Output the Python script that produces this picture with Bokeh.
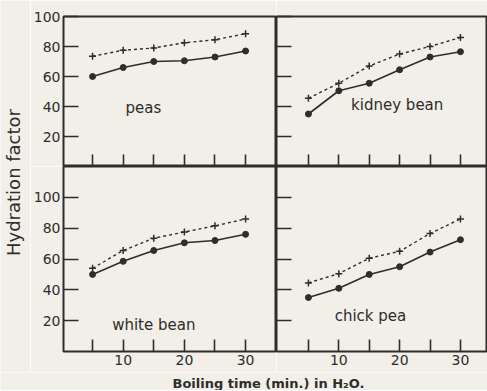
from math import pi
from bokeh.plotting import figure
from bokeh.models import Range1d, FixedTicker, Label
from bokeh.layouts import row, column
from bokeh.embed import file_html
from bokeh.resources import INLINE

# ---- data ----
boil_time = [5, 10, 15, 20, 25, 30]
peas_solid = [60, 66, 70, 70.5, 73, 77]
peas_dotted = [73.5, 77.5, 79, 82.5, 84.5, 88.5]
kidney_solid = [35, 50.5, 55.5, 64.5, 73, 76.5]
kidney_dotted = [45.5, 55.5, 67, 75, 80, 86]
white_solid = [50, 58.5, 65.5, 70.5, 72, 76]
white_dotted = [54, 65.5, 73.5, 77.5, 81.5, 86]
chick_solid = [35, 41, 50, 55, 64.5, 72.5]
chick_dotted = [44.5, 50.5, 60.5, 65, 76.5, 86]
panel_names = ["peas", "kidney bean", "white bean", "chick pea"]
y_ticks = [20, 40, 60, 80, 100]
x_ticks = [5, 10, 15, 20, 25, 30]
x_labelled_ticks = [10, 20, 30]
x_unlabelled_ticks = [5, 15, 25]
y_label = "Hydration factor"
x_label = "Boiling time (min.) in H\u2082O."

INK = "#2e2d2b"
PAPER = "#f1efe8"
FONT = "DejaVu Sans"


def style_axis(ax, major, minor, tick_len, labels):
    ax.ticker = FixedTicker(ticks=major, minor_ticks=minor)
    ax.axis_line_color = None
    ax.major_tick_in = tick_len
    ax.major_tick_out = 0
    ax.minor_tick_in = tick_len
    ax.minor_tick_out = 0
    ax.major_tick_line_color = INK
    ax.minor_tick_line_color = INK
    ax.major_tick_line_width = 1.6
    ax.minor_tick_line_width = 1.6
    ax.major_label_text_font = FONT
    ax.major_label_text_color = INK
    ax.major_label_text_font_size = "14px"
    ax.major_label_standoff = 3 if labels else 0


def panel(xr, yr, fw, fh, left, top, bottom, show_x, show_y):
    p = figure(frame_width=fw, frame_height=fh,
               x_range=Range1d(*xr), y_range=Range1d(*yr),
               output_backend="svg", toolbar_location=None,
               min_border_left=left, min_border_right=0,
               min_border_top=top, min_border_bottom=bottom)
    p.background_fill_color = PAPER
    p.border_fill_color = PAPER
    p.outline_line_color = INK
    p.outline_line_width = 2
    p.grid.visible = False
    if show_x:
        style_axis(p.xaxis[0], x_labelled_ticks, x_unlabelled_ticks, 12, True)
    else:
        style_axis(p.xaxis[0], [], x_ticks, 12, False)
    if show_y:
        style_axis(p.yaxis[0], y_ticks, [], 15, True)
    else:
        style_axis(p.yaxis[0], [], y_ticks, 15, False)
    return p


def draw(p, solid, dotted, name, lx, ly):
    p.line(boil_time, dotted, line_color=INK, line_width=1.4, line_dash="3 3")
    p.scatter(boil_time, dotted, marker="cross", size=7, line_color=INK, line_width=1.5)
    p.line(boil_time, solid, line_color=INK, line_width=1.6)
    p.scatter(boil_time, solid, marker="circle", size=6, fill_color=INK, line_color=INK)
    p.add_layout(Label(x=lx, y=ly, text=name, text_align="center", text_baseline="middle",
                       text_font=FONT, text_font_size="15px", text_color=INK))


LX = (0.25, 35.05)
RX = (-0.25, 34.45)
TY = (0, 100)
BY = (0, 120)

tl = panel(LX, TY, 213, 150, 33, 16, 0, False, True)
tr = panel(RX, TY, 211, 150, 0, 16, 0, False, False)
bl = panel(LX, BY, 213, 185, 33, 0, 21, True, True)
br = panel(RX, BY, 211, 185, 0, 0, 21, True, False)

draw(tl, peas_solid, peas_dotted, panel_names[0], 13.3, 38.7)
draw(tr, kidney_solid, kidney_dotted, panel_names[1], 19.6, 40.7)
draw(bl, white_solid, white_dotted, panel_names[2], 15.0, 17.0)
draw(br, chick_solid, chick_dotted, panel_names[3], 15.2, 23.0)

# y-axis title strip
ylab = figure(frame_width=30, frame_height=372, x_range=Range1d(0, 30), y_range=Range1d(0, 372),
              output_backend="svg", toolbar_location=None,
              x_axis_location=None, y_axis_location=None,
              min_border_left=0, min_border_right=0, min_border_top=0, min_border_bottom=0)
ylab.background_fill_color = PAPER
ylab.border_fill_color = PAPER
ylab.outline_line_color = None
ylab.grid.visible = False
ylab.add_layout(Label(x=13, y=190, text=y_label, angle=pi / 2, text_align="center",
                      text_baseline="middle", text_font=FONT, text_font_size="18px",
                      text_color=INK))

# x-axis title strip
xlab = figure(frame_width=487, frame_height=18, x_range=Range1d(0, 487), y_range=Range1d(0, 18),
              output_backend="svg", toolbar_location=None,
              x_axis_location=None, y_axis_location=None,
              min_border_left=0, min_border_right=0, min_border_top=0, min_border_bottom=0)
xlab.background_fill_color = PAPER
xlab.border_fill_color = PAPER
xlab.outline_line_color = None
xlab.grid.visible = False
xlab.add_layout(Label(x=268, y=7, text=x_label, text_align="center",
                      text_baseline="middle", text_font=FONT, text_font_size="13px",
                      text_font_style="bold", text_color=INK))

grid = column(row(tl, tr), row(bl, br))
p = column(row(ylab, grid), xlab)

open("out.html", "w").write(file_html(p, INLINE))
